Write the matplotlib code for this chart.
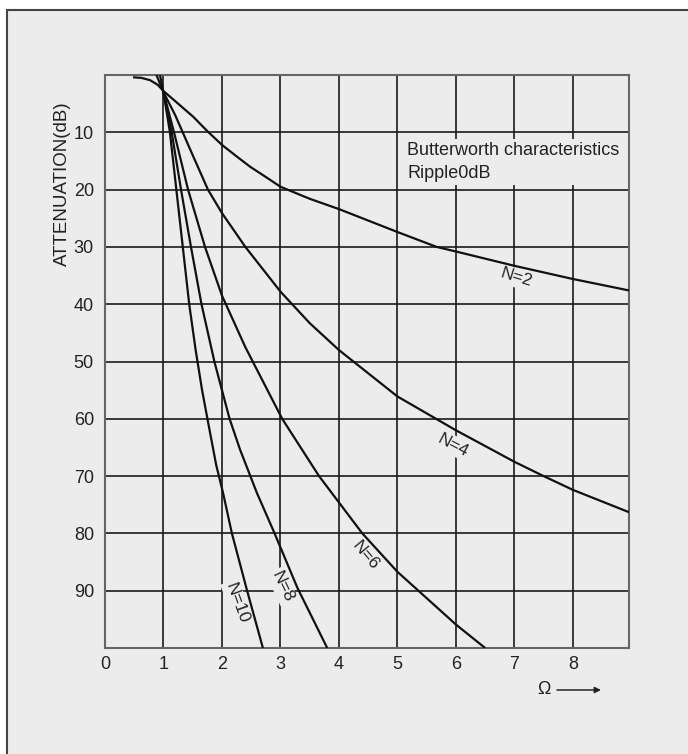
import matplotlib
matplotlib.use('Agg')
import matplotlib.pyplot as plt
from matplotlib.patches import Rectangle

plt.rcParams['font.family'] = ['Liberation Sans', 'DejaVu Sans']

# curves (Omega, attenuation in dB)
n2_x = [0.48, 0.62, 0.77, 0.90, 1.00, 1.25, 1.51, 1.75, 2.00, 2.25, 2.48, 2.75, 3.00,
        3.50, 4.00, 4.35, 5.00, 5.67, 6.00, 7.00, 8.00, 8.96]
n2_y = [0.4, 0.5, 0.9, 1.7, 2.8, 5.0, 7.3, 9.8, 12.2, 14.2, 16.0, 17.8, 19.5,
        21.6, 23.4, 24.8, 27.4, 30.0, 30.8, 33.3, 35.6, 37.6]

n4_x = [1.00, 1.20, 1.50, 1.76, 2.00, 2.40, 3.00, 3.50, 4.00, 5.00, 6.00, 7.00,
        7.50, 8.00, 8.96]
n4_y = [3.0, 7.0, 14.0, 20.0, 24.1, 30.0, 37.8, 43.3, 48.0, 56.1, 62.0, 67.5,
        70.0, 72.4, 76.3]

n6_x = [1.00, 1.18, 1.42, 1.71, 2.00, 2.40, 3.03, 3.66, 4.40, 5.00, 6.00, 6.50]
n6_y = [3.0, 10.0, 20.0, 30.0, 38.5, 47.5, 60.0, 70.0, 80.0, 86.7, 95.9, 100.0]

n8_x = [0.94, 1.00, 1.14, 1.30, 1.47, 1.65, 1.87, 2.13, 2.31, 2.60, 2.90, 3.29, 3.80]
n8_y = [0.0, 3.0, 10.0, 20.0, 30.0, 40.0, 50.0, 60.0, 65.4, 73.0, 80.0, 89.5, 100.0]

n10_x = [0.88, 1.00, 1.11, 1.22, 1.33, 1.44, 1.55, 1.66, 1.77, 1.90, 2.02, 2.17,
         2.43, 2.70]
n10_y = [0.0, 3.0, 10.0, 20.0, 30.0, 40.0, 48.0, 55.0, 61.0, 68.0, 73.0, 80.0,
         90.0, 100.0]

curve_labels = ['N=2', 'N=4', 'N=6', 'N=8', 'N=10']
label_x = [7.03, 5.95, 4.46, 3.03, 2.26]
label_y = [35.4, 64.6, 83.8, 89.3, 92.2]
label_rot = [-17, -28, -50, -65, -70]

x_ticks = list(range(0, 9))
y_ticks = list(range(10, 100, 10))

BG = '#ececec'

fig = plt.figure(figsize=(6.88, 7.54), dpi=100)
frame = Rectangle((7 / 688, -0.05), 1.2, 1.05 - 10 / 754,
                  transform=fig.transFigure, facecolor=BG,
                  edgecolor='#444444', linewidth=1.5, zorder=-10)
fig.patches.append(frame)

ax = fig.add_axes([105 / 688, 1 - 648 / 754, 524 / 688, 573 / 754])
ax.set_zorder(1)
ax.set_facecolor(BG)
ax.set_xlim(0, 8.96)
ax.set_ylim(100, 0)
ax.set_xticks(x_ticks)
ax.set_yticks(y_ticks)
ax.tick_params(length=0, labelsize=13, colors='#222222')
ax.tick_params(axis='x', pad=6)
ax.tick_params(axis='y', pad=8)
ax.set_axisbelow(True)
ax.grid(True, color='#1a1a1a', linewidth=1.2)
for s in ax.spines.values():
    s.set_color('#666666')
    s.set_linewidth(1.5)

for xs, ys in [(n2_x, n2_y), (n4_x, n4_y), (n6_x, n6_y), (n8_x, n8_y), (n10_x, n10_y)]:
    ax.plot(xs, ys, color='#111111', linewidth=1.6, zorder=4,
            solid_joinstyle='round', solid_capstyle='butt')

for t, lx, ly, r in zip(curve_labels, label_x, label_y, label_rot):
    ax.text(lx, ly, t, rotation=r, fontsize=12.5, color='#222222',
            ha='center', va='center', rotation_mode='anchor', zorder=3,
            bbox=dict(facecolor=BG, edgecolor='none', pad=1.5))

ax.text(5.17, 11.7, 'Butterworth characteristics\nRipple0dB', fontsize=13,
        color='#222222', ha='left', va='top', linespacing=1.45, zorder=3,
        bbox=dict(facecolor=BG, edgecolor='none', pad=2))

ax.text(-0.082, 0.81, 'ATTENUATION(dB)', transform=ax.transAxes, rotation=90,
        fontsize=13.5, color='#222222', ha='center', va='center')

fig.text(544 / 688, 1 - 690 / 754, 'Ω', fontsize=13, color='#222222',
         ha='center', va='center')
ax.annotate('', xy=(601 / 688, 1 - 690 / 754), xytext=(557 / 688, 1 - 690 / 754),
            xycoords='figure fraction', textcoords='figure fraction',
            arrowprops=dict(arrowstyle='-|>', color='#222222', lw=1.1,
                            mutation_scale=9, shrinkA=0, shrinkB=0))

fig.savefig('out.png', dpi=100, facecolor='white')
